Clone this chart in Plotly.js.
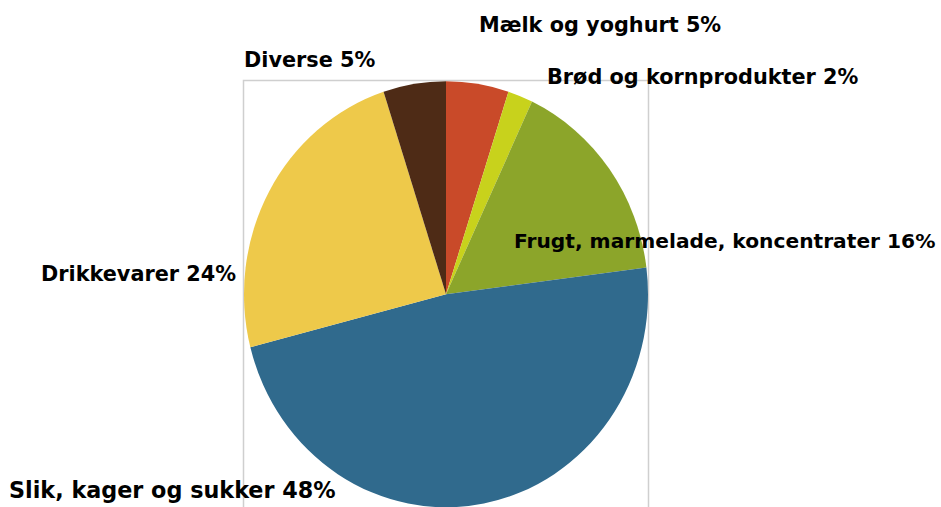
<!DOCTYPE html>
<html>
<head>
<meta charset="utf-8">
<script src="https://cdn.plot.ly/plotly-3.0.1.min.js"></script>
<style>html,body{margin:0;padding:0;background:#fff;}#chart{width:941px;height:507px;}</style>
</head>
<body>
<div id="chart"></div>
<script>
// Data (clockwise from 12 o'clock)
var categories = ["Mælk og yoghurt", "Brød og kornprodukter", "Frugt, marmelade, koncentrater", "Slik, kager og sukker", "Drikkevarer", "Diverse"];
var values = [5, 2, 16, 48, 24, 5];
var percentLabels = ["5%", "2%", "16%", "48%", "24%", "5%"];
var colors = ["#C94A29", "#C8D21C", "#8CA52A", "#306A8D", "#EEC94A", "#4E2B16"];

var W = 941, H = 507;
// pie geometry (pixels)
var cx = 446, cy = 294.3, r = 202, ry = 213;

function px(x) { return x / W; }
function py(y) { return (H - y) / H; }

// label placement: [left px, baseline px, font size]
var labelPos = [
  [478, 32.3, 20.8],
  [546, 84, 20.8],
  [513, 248.3, 20.2],
  [8, 498, 22.3],
  [40, 281.7, 20.8],
  [243, 67.3, 20.8]
];

var annotations = categories.map(function (c, i) {
  var p = labelPos[i];
  return {
    xref: "paper", yref: "paper",
    x: px(p[0]), y: py(p[1] - 0.36 * p[2]),
    xanchor: "left", yanchor: "middle",
    text: c + " " + percentLabels[i],
    showarrow: false, borderpad: 0,
    font: {family: "DejaVu Sans", size: p[2], color: "#000", weight: "bold"}
  };
});

var trace = {
  type: "pie",
  labels: categories,
  values: values,
  sort: false,
  direction: "clockwise",
  rotation: 0,
  textinfo: "none",
  hoverinfo: "label+percent",
  marker: {colors: colors, line: {width: 0}},
  domain: {x: [px(cx - r), px(cx + r)], y: [py(cy + r), py(cy - r)]},
  showlegend: false
};

var layout = {
  width: W, height: H,
  margin: {l: 0, r: 0, t: 0, b: 0},
  paper_bgcolor: "#fff",
  plot_bgcolor: "#fff",
  showlegend: false,
  shapes: [{
    type: "rect", xref: "paper", yref: "paper", layer: "below",
    x0: px(243.5), x1: px(648.5), y0: py(80.5), y1: py(530),
    line: {color: "#CFCFCF", width: 1.5}, fillcolor: "rgba(0,0,0,0)"
  }],
  annotations: annotations
};

Plotly.newPlot("chart", [trace], layout, {displayModeBar: false, staticPlot: true}).then(function () {
  var k = ry / r;
  var pl = document.querySelector(".pielayer");
  if (pl) {
    pl.setAttribute("transform", "translate(0," + cy + ") scale(1," + k + ") translate(0," + (-cy) + ")");
  }
});
</script>
</body>
</html>
